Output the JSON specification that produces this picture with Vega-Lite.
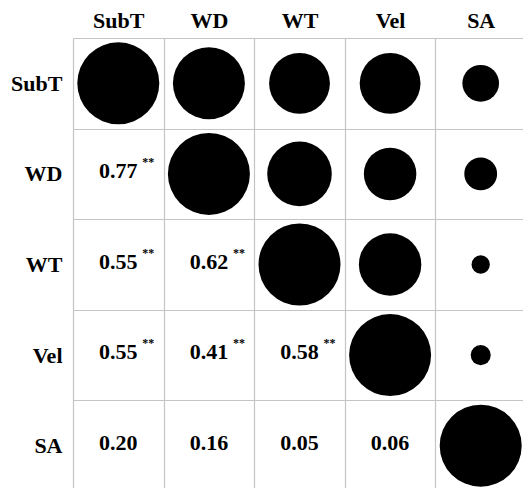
{
  "$schema": "https://vega.github.io/schema/vega-lite/v6.json",
  "width": 453,
  "height": 453,
  "autosize": {"type": "none"},
  "padding": {"left": 73, "top": 38, "right": 0, "bottom": 0},
  "background": "white",
  "config": {"view": {"stroke": null}},
  "data": {
    "values": [
      {"a": "SubT", "b": "SubT", "r": 1.0, "sig": ""},
      {"a": "WD", "b": "WD", "r": 1.0, "sig": ""},
      {"a": "WT", "b": "WT", "r": 1.0, "sig": ""},
      {"a": "Vel", "b": "Vel", "r": 1.0, "sig": ""},
      {"a": "SA", "b": "SA", "r": 1.0, "sig": ""},
      {"a": "WD", "b": "SubT", "r": 0.77, "sig": "**"},
      {"a": "WT", "b": "SubT", "r": 0.55, "sig": "**"},
      {"a": "Vel", "b": "SubT", "r": 0.55, "sig": "**"},
      {"a": "SA", "b": "SubT", "r": 0.20, "sig": ""},
      {"a": "WT", "b": "WD", "r": 0.62, "sig": "**"},
      {"a": "Vel", "b": "WD", "r": 0.41, "sig": "**"},
      {"a": "SA", "b": "WD", "r": 0.16, "sig": ""},
      {"a": "Vel", "b": "WT", "r": 0.58, "sig": "**"},
      {"a": "SA", "b": "WT", "r": 0.05, "sig": ""},
      {"a": "SA", "b": "Vel", "r": 0.06, "sig": ""}
    ]
  },
  "layer": [
    {
      "mark": {"type": "circle", "color": "black", "opacity": 1},
      "encoding": {
        "x": {"field": "a", "type": "nominal", "sort": ["SubT", "WD", "WT", "Vel", "SA"],
          "scale": {"domain": ["SubT", "WD", "WT", "Vel", "SA"]},
          "axis": {"orient": "top", "title": null, "labelAngle": 0, "ticks": false, "tickSize": 0, "domain": false,
            "grid": true, "tickBand": "extent", "gridColor": "#c4c4c4", "gridWidth": 1.2,
            "labelFont": "Liberation Serif", "labelFontWeight": "bold", "labelFontSize": 22, "labelColor": "black",
            "labelBaseline": "alphabetic", "labelPadding": 11}},
        "y": {"field": "b", "type": "nominal", "sort": ["SubT", "WD", "WT", "Vel", "SA"],
          "scale": {"domain": ["SubT", "WD", "WT", "Vel", "SA"]},
          "axis": {"orient": "left", "title": null, "ticks": false, "tickSize": 0, "domain": false,
            "grid": true, "tickBand": "extent", "gridColor": "#c4c4c4", "gridWidth": 1.2,
            "labelFont": "Liberation Serif", "labelFontWeight": "bold", "labelFontSize": 22, "labelColor": "black",
            "labelPadding": 11}},
        "size": {"field": "r", "type": "quantitative", "scale": {"domain": [0, 1], "range": [0, 6724]}, "legend": null}
      }
    },
    {
      "transform": [{"filter": "datum.a != datum.b"}],
      "mark": {"type": "text", "font": "Liberation Serif", "fontWeight": "bold", "fontSize": 22, "fill": "black", "color": "black", "baseline": "alphabetic", "dy": 4},
      "encoding": {
        "x": {"field": "b", "type": "nominal"},
        "y": {"field": "a", "type": "nominal"},
        "text": {"field": "r", "type": "quantitative", "format": ".2f"}
      }
    },
    {
      "transform": [{"filter": "datum.sig != ''"}],
      "mark": {"type": "text", "font": "Liberation Serif", "fontWeight": "bold", "fontSize": 12, "fill": "black", "color": "black", "baseline": "alphabetic", "align": "left", "dx": 24, "dy": -8},
      "encoding": {
        "x": {"field": "b", "type": "nominal"},
        "y": {"field": "a", "type": "nominal"},
        "text": {"field": "sig", "type": "nominal"}
      }
    }
  ]
}
